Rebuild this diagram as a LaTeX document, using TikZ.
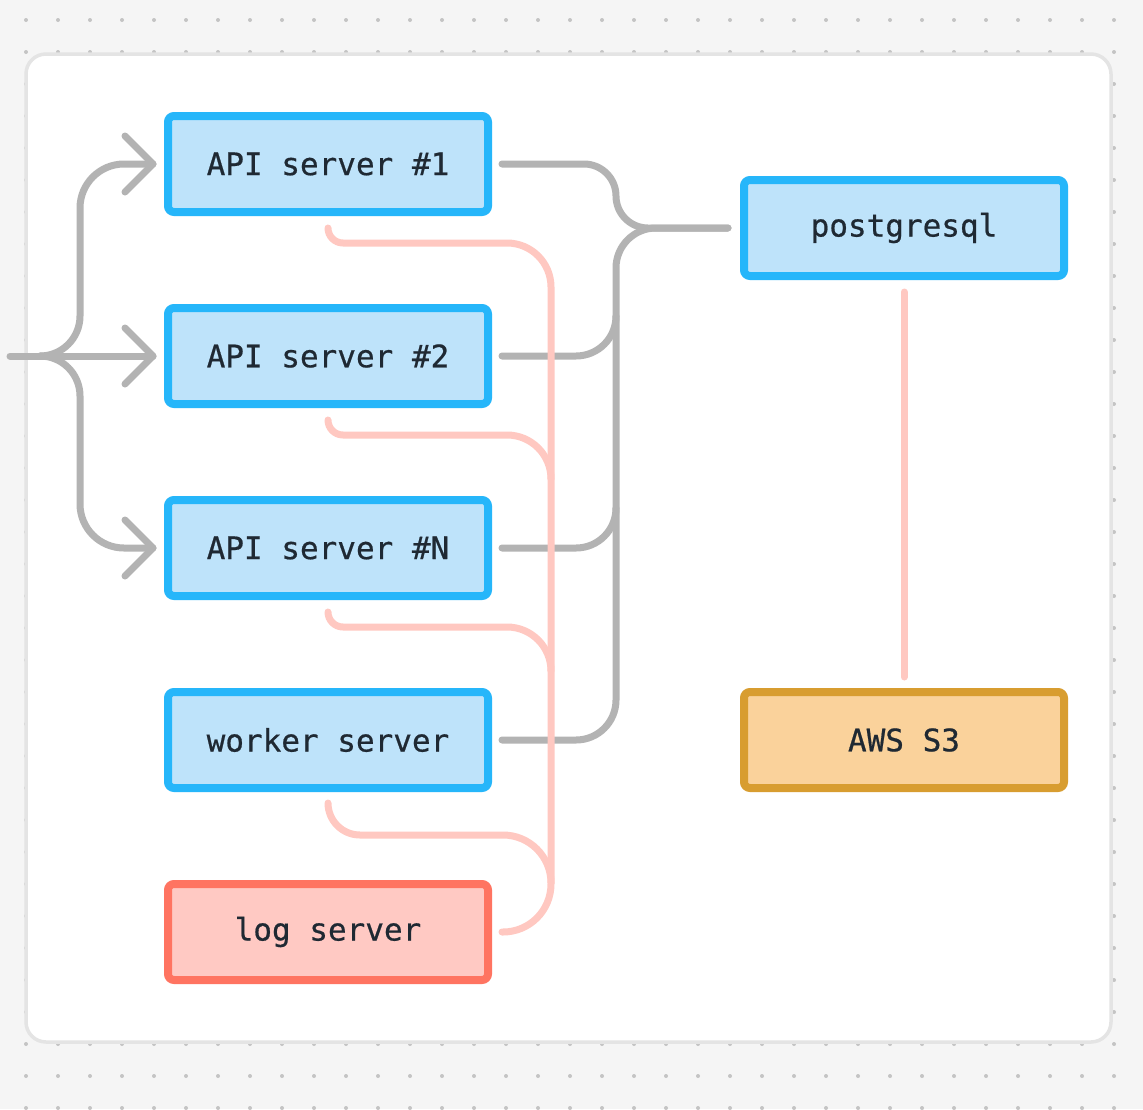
\documentclass[tikz,border=0pt]{standalone}
\usepackage{fontspec}
\setmonofont{DejaVu Sans Mono}[FakeBold=0.6]
\usetikzlibrary{calc}
\definecolor{bgc}{HTML}{F5F5F5}
\definecolor{dotc}{HTML}{C4C4C4}
\definecolor{framec}{HTML}{E4E4E4}
\definecolor{blueS}{HTML}{26B6FA}
\definecolor{blueF}{HTML}{BEE3FA}
\definecolor{redS}{HTML}{FF7461}
\definecolor{redF}{HTML}{FFC9C3}
\definecolor{orS}{HTML}{D89D30}
\definecolor{orF}{HTML}{FAD29B}
\definecolor{grayL}{HTML}{B3B3B3}
\definecolor{pinkL}{HTML}{FFC8C1}
\definecolor{txt}{HTML}{1F2933}
\tikzset{
  box/.style={draw, line width=8pt, rounded corners=6pt, minimum width=320pt, minimum height=96pt,
    font=\ttfamily\fontsize{31pt}{36pt}\selectfont, text=txt, inner sep=0pt},
  bluebox/.style={box, draw=blueS, fill=blueF},
  redbox/.style={box, draw=redS, fill=redF},
  orbox/.style={box, draw=orS, fill=orF},
  gline/.style={draw=grayL, line width=7pt, line cap=round, line join=round},
  pline/.style={draw=pinkL, line width=7pt, line cap=round, line join=round},
}
\begin{document}
\begin{tikzpicture}[x=1pt,y=1pt]
% background
\fill[bgc] (0,0) rectangle (1143,-1109);
\useasboundingbox (0,0) rectangle (1143,-1109);
\foreach \xx in {26,58,...,1114}{
  \foreach \yy in {20,52,...,1108}{
    \fill[dotc] (\xx,-\yy) circle (2);
  }
}
% container
\draw[framec, fill=white, line width=3.5pt, rounded corners=20pt] (26,-54) rectangle (1111,-1042);

% nodes
\node[bluebox] (a1) at (328,-164) {API server \#1};
\node[bluebox] (a2) at (328,-356) {API server \#2};
\node[bluebox] (aN) at (328,-548) {API server \#N};
\node[bluebox] (wk) at (328,-740) {worker server};
\node[redbox]  (lg) at (328,-932) {log server};
\node[bluebox] (pg) at (904,-228) {postgresql};
\node[orbox]   (s3) at (904,-740) {AWS S3};

% incoming fan (left)
\coordinate (in) at (10,-356);
\coordinate (fork) at (40,-356);
\draw[gline] (in) -- ([xshift=-11pt]a2.west);
\draw[gline] (fork) arc[start angle=270, end angle=360, radius=40] -- (80,-208)
  arc[start angle=180, end angle=90, radius=44] -- ([xshift=-11pt]a1.west);
\draw[gline] (fork) arc[start angle=90, end angle=0, radius=40] -- (80,-504)
  arc[start angle=180, end angle=270, radius=44] -- ([xshift=-11pt]aN.west);
\foreach \n in {a1,a2,aN}{
  \draw[gline] ($(\n.west)+(-39,28)$) -- ([xshift=-11pt]\n.west) -- ($(\n.west)+(-39,-28)$);
}

% gray links to postgresql
\draw[gline] ([xshift=10pt]a1.east) -- (584,-164) arc[start angle=90, end angle=0, radius=32]
  arc[start angle=180, end angle=270, radius=32] -- ([xshift=-12pt]pg.west);
\draw[gline] ([xshift=10pt]wk.east) -- (576,-740) arc[start angle=270, end angle=360, radius=40]
  -- (616,-268) arc[start angle=180, end angle=90, radius=40] -- ([xshift=-12pt]pg.west);
\draw[gline] ([xshift=10pt]a2.east) -- (576,-356) arc[start angle=270, end angle=360, radius=40];
\draw[gline] ([xshift=10pt]aN.east) -- (576,-548) arc[start angle=270, end angle=360, radius=40];

% pink log links
\draw[pline] ([yshift=-12pt]a1.south) arc[start angle=180, end angle=270, radius=15]
  -- (507,-243) arc[start angle=90, end angle=0, radius=44]
  -- (551,-884) arc[start angle=0, end angle=-90, radius=48] -- ([xshift=10pt]lg.east);
\draw[pline] ([yshift=-12pt]a2.south) arc[start angle=180, end angle=270, radius=15]
  -- (507,-435) arc[start angle=90, end angle=0, radius=44];
\draw[pline] ([yshift=-12pt]aN.south) arc[start angle=180, end angle=270, radius=15]
  -- (507,-627) arc[start angle=90, end angle=0, radius=44];
\draw[pline] ([yshift=-11pt]wk.south) arc[start angle=180, end angle=270, radius=32]
  -- (503,-835) arc[start angle=90, end angle=0, radius=48];

% postgres to S3
\draw[pline] ([yshift=-12pt]pg.south) -- ([yshift=11pt]s3.north);
\end{tikzpicture}
\end{document}
